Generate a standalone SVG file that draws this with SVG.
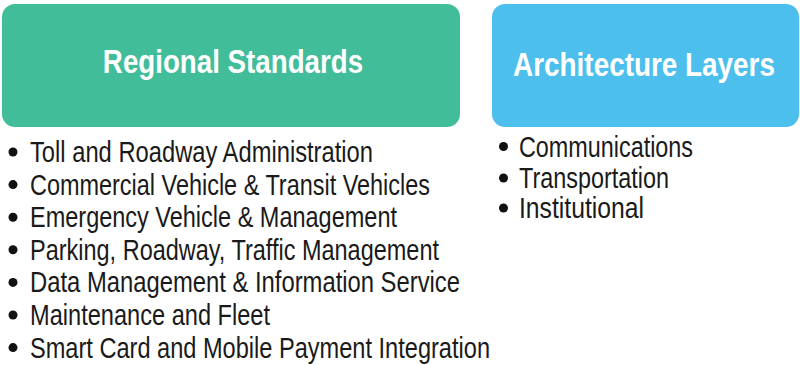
<svg xmlns="http://www.w3.org/2000/svg" width="800" height="365" viewBox="0 0 800 365">
<style>
.title{font-family:"Liberation Sans",Arial,sans-serif;font-weight:bold;font-size:33px;fill:#ffffff;text-anchor:middle}
.item{font-family:"Liberation Sans",Arial,sans-serif;font-size:29px;fill:#1a1a1a}
.dot{fill:#111111}
</style>
<rect width="800" height="365" fill="#ffffff"/>
<g id="regional-standards">
<rect x="2" y="4" width="458" height="123" rx="13" fill="#42BD99"/>
<text class="title" transform="translate(233,73) scale(0.84,1)" x="0" y="0">Regional Standards</text>
<circle class="dot" cx="13" cy="152" r="4.5"/>
<text class="item" x="30" y="162" textLength="343" lengthAdjust="spacingAndGlyphs">Toll and Roadway Administration</text>
<circle class="dot" cx="13" cy="184.6" r="4.5"/>
<text class="item" x="30" y="194.6" textLength="400" lengthAdjust="spacingAndGlyphs">Commercial Vehicle &amp; Transit Vehicles</text>
<circle class="dot" cx="13" cy="217.2" r="4.5"/>
<text class="item" x="30" y="227.2" textLength="367" lengthAdjust="spacingAndGlyphs">Emergency Vehicle &amp; Management</text>
<circle class="dot" cx="13" cy="249.8" r="4.5"/>
<text class="item" x="30" y="259.8" textLength="409" lengthAdjust="spacingAndGlyphs">Parking, Roadway, Traffic Management</text>
<circle class="dot" cx="13" cy="282.4" r="4.5"/>
<text class="item" x="30" y="292.4" textLength="430" lengthAdjust="spacingAndGlyphs">Data Management &amp; Information Service</text>
<circle class="dot" cx="13" cy="315" r="4.5"/>
<text class="item" x="30" y="325" textLength="240" lengthAdjust="spacingAndGlyphs">Maintenance and Fleet</text>
<circle class="dot" cx="13" cy="347.6" r="4.5"/>
<text class="item" x="30" y="357.6" textLength="460" lengthAdjust="spacingAndGlyphs">Smart Card and Mobile Payment Integration</text>
</g>
<g id="architecture-layers">
<rect x="492" y="4" width="307" height="123" rx="13" fill="#4DBFEC"/>
<text class="title" transform="translate(644,76) scale(0.845,1)" x="0" y="0">Architecture Layers</text>
<circle class="dot" cx="503.5" cy="146.5" r="4.5"/>
<text class="item" x="519" y="156.5" textLength="174" lengthAdjust="spacingAndGlyphs">Communications</text>
<circle class="dot" cx="503.5" cy="178" r="4.5"/>
<text class="item" x="519" y="188" textLength="150" lengthAdjust="spacingAndGlyphs">Transportation</text>
<circle class="dot" cx="503.5" cy="208" r="4.5"/>
<text class="item" x="519" y="218" textLength="125" lengthAdjust="spacingAndGlyphs">Institutional</text>
</g>
<g id="connectors"></g>
</svg>
